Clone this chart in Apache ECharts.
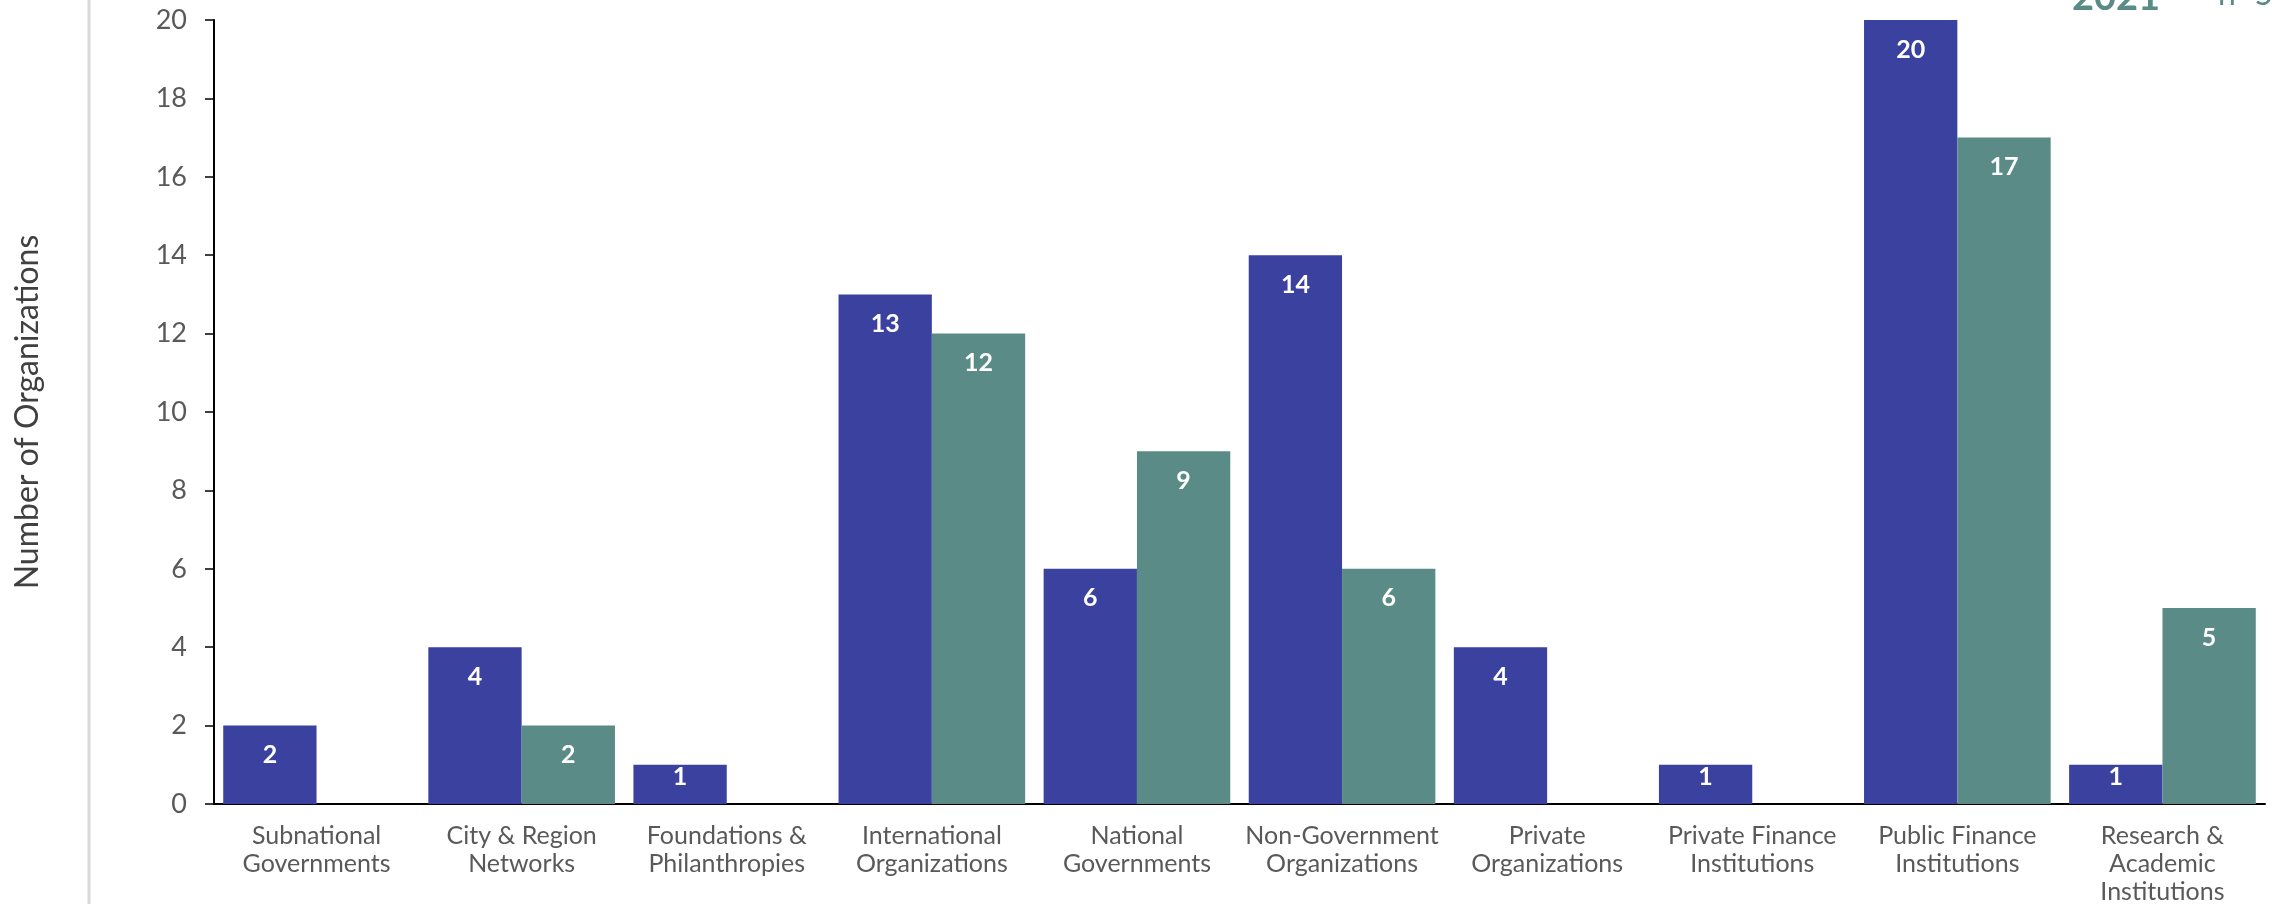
<!DOCTYPE html>
<html>
<head>
<meta charset="utf-8">
<script src="https://cdn.jsdelivr.net/npm/echarts@6/dist/echarts.min.js"></script>
<style>
  html, body { margin: 0; padding: 0; background: #fff; }
  #chart { width: 2272px; height: 904px; }
</style>
</head>
<body>
<div id="chart"></div>
<script>
// organization types, two survey years
var categories = [
    "Subnational\nGovernments",
    "City & Region\nNetworks",
    "Foundations &\nPhilanthropies",
    "International\nOrganizations",
    "National\nGovernments",
    "Non-Government\nOrganizations",
    "Private\nOrganizations",
    "Private Finance\nInstitutions",
    "Public Finance\nInstitutions",
    "Research &\nAcademic\nInstitutions"
];
var values2020 = [2, 4, 1, 13, 6, 14, 4, 1, 20, 1];
var values2021 = [0, 2, 0, 12, 9, 6, 0, 0, 17, 5];
var yTicks = [0, 2, 4, 6, 8, 10, 12, 14, 16, 18, 20];

var blue = "#3a419e";
var teal = "#5b8b87";
var font = "Lato";

// bars of 1 are too short for the usual offset, their label sits right under the top
function toData(arr) {
    return arr.map(function (v) {
        if (v === 0) return { value: v, label: { show: false } };
        if (v === 1) return { value: v, label: { distance: 0 } };
        return v;
    });
}

var labelStyle = {
    show: true,
    position: "insideTop",
    distance: 17,
    color: "#fff",
    fontFamily: font,
    fontWeight: "bold",
    fontSize: 25
};

var chart = echarts.init(document.getElementById("chart"));
chart.setOption({
    animation: false,
    grid: { left: 214, right: 7, top: 20, bottom: 100, outerBoundsMode: "none" },
    xAxis: {
        type: "category",
        data: categories,
        axisLine: { lineStyle: { color: "#000", width: 2 } },
        axisTick: { show: false },
        axisLabel: {
            interval: 0,
            margin: 18,
            color: "#595959",
            fontFamily: font,
            fontSize: 25,
            lineHeight: 28
        }
    },
    yAxis: {
        type: "value",
        min: yTicks[0],
        max: yTicks[yTicks.length - 1],
        interval: 2,
        name: "Number of Organizations",
        nameLocation: "middle",
        nameGap: 170,
        nameTextStyle: { color: "#404040", fontFamily: font, fontSize: 32 },
        axisLine: { show: true, lineStyle: { color: "#000", width: 2 } },
        axisTick: { show: true, length: 9, lineStyle: { color: "#000", width: 1.5 } },
        splitLine: { show: false },
        axisLabel: { margin: 27, color: "#595959", fontFamily: font, fontSize: 27 }
    },
    series: [
        {
            name: "2020",
            type: "bar",
            data: toData(values2020),
            itemStyle: { color: blue },
            barGap: "0%",
            barCategoryGap: "9%",
            label: labelStyle
        },
        {
            name: "2021",
            type: "bar",
            data: toData(values2021),
            itemStyle: { color: teal },
            label: labelStyle
        }
    ],
    graphic: [
        {
            type: "line",
            shape: { x1: 89, y1: 0, x2: 89, y2: 904 },
            style: { stroke: "#d9d9d9", lineWidth: 3 }
        },
        {
            type: "text",
            x: 2072, y: -2,
            style: { text: "2021", fill: teal, font: "bold 38px " + font, verticalAlign: "middle" }
        },
        {
            type: "text",
            x: 2218, y: -5,
            style: { text: "n=51", fill: teal, font: "32px " + font, verticalAlign: "middle" }
        }
    ]
});
</script>
</body>
</html>
